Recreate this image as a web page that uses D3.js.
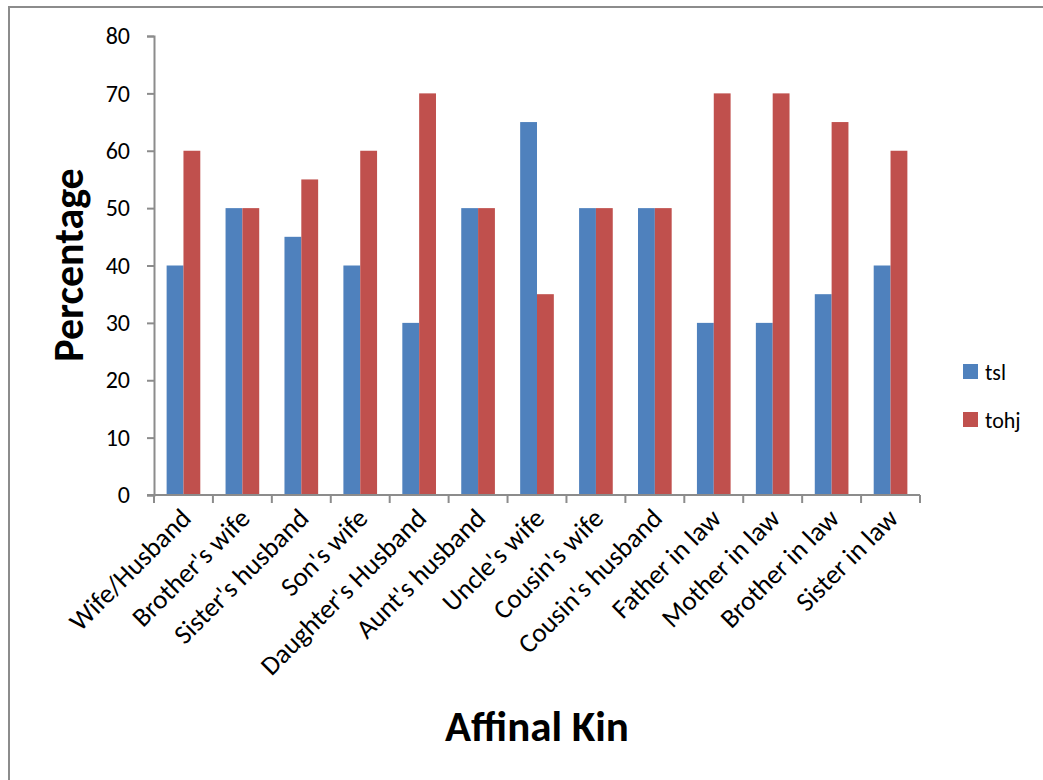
<!DOCTYPE html>
<html>
<head>
<meta charset="utf-8">
<script src="https://cdn.jsdelivr.net/npm/d3@7"></script>
<style>
  html, body { margin: 0; padding: 0; background: #fff; }
  svg { display: block; }
  text { font-family: Carlito, Lato, "Open Sans", sans-serif; fill: #000; }
</style>
</head>
<body>
<svg id="chart" width="1043" height="780"></svg>
<script>
// Affinal kin categories and percentages for each series
const categories = ["Wife/Husband", "Brother's wife", "Sister's husband", "Son's wife",
  "Daughter's Husband", "Aunt's husband", "Uncle's wife", "Cousin's wife",
  "Cousin's husband", "Father in law", "Mother in law", "Brother in law", "Sister in law"];
const tslValues  = [40, 50, 45, 40, 30, 50, 65, 50, 50, 30, 30, 35, 40];
const tohjValues = [60, 50, 55, 60, 70, 50, 35, 50, 50, 70, 70, 65, 60];
const seriesNames = ["tsl", "tohj"];
const seriesColors = ["#4f81bd", "#c0504d"];
const yTicks = [0, 10, 20, 30, 40, 50, 60, 70, 80];

const svg = d3.select("#chart");

// outer chart frame
svg.append("rect")
  .attr("x", 9).attr("y", 7)
  .attr("width", 1100).attr("height", 900)
  .attr("fill", "none").attr("stroke", "#8c8c8c").attr("stroke-width", 2);

const plot = { left: 154, right: 920, top: 36, bottom: 495 };

const x = d3.scaleBand().domain(categories).range([plot.left, plot.right]).paddingInner(0).paddingOuter(0);
const inner = d3.scaleBand().domain(seriesNames).range([0, x.bandwidth()]).paddingInner(0).paddingOuter(0.75);
const y = d3.scaleLinear().domain([0, 80]).range([plot.bottom, plot.top]);

const rows = categories.map((c, i) => ({ cat: c, vals: [tslValues[i], tohjValues[i]] }));

// bars
const groups = svg.append("g").selectAll("g").data(rows).join("g")
  .attr("transform", d => `translate(${x(d.cat)},0)`);
groups.selectAll("rect").data(d => d.vals.map((v, j) => ({ name: seriesNames[j], v, j })))
  .join("rect")
  .attr("x", d => inner(d.name))
  .attr("width", inner.bandwidth())
  .attr("y", d => y(d.v))
  .attr("height", d => y(0) - y(d.v))
  .attr("fill", d => seriesColors[d.j]);

// y axis
const yAxis = svg.append("g").attr("transform", `translate(${plot.left},0)`)
  .call(d3.axisLeft(y).tickValues(yTicks).tickSize(7).tickPadding(17));
yAxis.select(".domain").attr("stroke", "#8c8c8c").attr("stroke-width", 2);
yAxis.selectAll(".tick line").attr("stroke", "#8c8c8c").attr("stroke-width", 2);
yAxis.selectAll(".tick text").style("font-size", "24px").attr("fill", "#000");

// x axis: ticks at category boundaries
const xAxisG = svg.append("g").attr("transform", `translate(0,${plot.bottom})`);
xAxisG.append("line")
  .attr("x1", plot.left - 7).attr("x2", plot.right)
  .attr("y1", 0).attr("y2", 0)
  .attr("stroke", "#8c8c8c").attr("stroke-width", 2);
const boundaries = categories.map(c => x(c)).concat([plot.right]);
xAxisG.selectAll("line.tk").data(boundaries).join("line")
  .attr("class", "tk")
  .attr("x1", d => d).attr("x2", d => d)
  .attr("y1", 0).attr("y2", 8)
  .attr("stroke", "#8c8c8c").attr("stroke-width", 2);
xAxisG.selectAll("text.cat").data(categories).join("text")
  .attr("class", "cat")
  .attr("text-anchor", "end")
  .attr("transform", d => `translate(${x(d) + x.bandwidth() / 2 + 9},${25}) rotate(-45)`)
  .style("font-size", "27px")
  .text(d => d);

// axis titles
svg.append("text")
  .attr("transform", `translate(83,${265}) rotate(-90)`)
  .attr("text-anchor", "middle")
  .style("font-size", "42px").style("font-weight", "bold")
  .text("Percentage");
svg.append("text")
  .attr("x", 537).attr("y", 741)
  .attr("text-anchor", "middle")
  .style("font-size", "43px").style("font-weight", "bold")
  .text("Affinal Kin");

// legend
const legend = svg.append("g").attr("transform", "translate(963,364)");
const li = legend.selectAll("g").data(seriesNames).join("g")
  .attr("transform", (d, i) => `translate(0,${i * 48})`);
li.append("rect").attr("width", 15).attr("height", 15).attr("fill", (d, i) => seriesColors[i]);
li.append("text").attr("x", 22).attr("y", 16).style("font-size", "22px").text(d => d);
</script>
</body>
</html>
